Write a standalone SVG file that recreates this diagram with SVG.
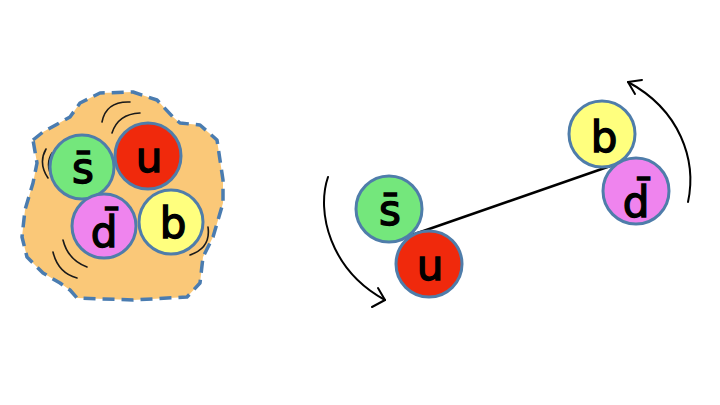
<svg xmlns="http://www.w3.org/2000/svg" width="720" height="405" viewBox="0 0 720 405">
<style>
.q{stroke:#4F7DAA;stroke-width:3}
.g{fill:#74E77C}.r{fill:#F0290C}.p{fill:#EF84EE}.y{fill:#FFFF7E}
.t{font-family:"DejaVu Sans",sans-serif;font-size:42px;fill:#000;stroke:#000;stroke-width:1.4;text-anchor:middle}
.m{fill:none;stroke:#1a1a1a;stroke-width:1.6;stroke-linecap:round}
.c{fill:none;stroke:#000;stroke-width:2;stroke-linecap:round;stroke-linejoin:round}
</style>
<rect width="720" height="405" fill="#fff"/>
<g id="hadron">
<path d="M33,140 L43,132 L70,117 L80,103 L100,93 L133,92 L157,100 L173,117 L180,123 L200,125 L217,140 L220,160 L223,180 L223,203 L213,237 L203,257 L200,283 L187,297 L133,300 L77,298 L70,290 L60,283 L43,273 L27,257 L22,237 L25,210 L33,183 L37,163 Z" fill="#FAC878" stroke="#4A7CB0" stroke-width="3.5" stroke-dasharray="12 7" stroke-linejoin="round"/>
<path class="m" d="M102,122 Q106,101 130,102 M112,133 Q118,114 140,113 M46,149 Q38,163 48,178 M52,153 Q45,164 52,177 M63,240 Q68,260 87,267 M53,252 Q58,273 77,278 M208,227 Q211,248 190,255"/>
</g>
<g id="L-sbar"><circle class="q g" cx="82" cy="167" r="32"/><text class="t" x="83" y="183">s̄</text></g>
<g id="L-u"><circle class="q r" cx="148" cy="156" r="33"/><text class="t" x="149" y="172">u</text></g>
<g id="L-dbar"><circle class="q p" cx="104" cy="226" r="32"/><text class="t" x="104" y="247">d̄</text></g>
<g id="L-b"><circle class="q y" cx="171" cy="222" r="32"/><text class="t" x="173" y="238">b</text></g>
<g id="connectors">
<path d="M409,236 L619,163" stroke="#000" stroke-width="2.5"/>
<path class="c" d="M328,177 C316,212 330,270 385,300"/>
<path class="c" d="M378,288 L385,300 L372,307"/>
<path class="c" d="M688,202 C697,160 680,110 628,82"/>
<path class="c" d="M642,80 L628,82 L635,94"/>
</g>
<g id="R-sbar"><circle class="q g" cx="389" cy="209" r="33"/><text class="t" x="390" y="225">s̄</text></g>
<g id="R-u"><circle class="q r" cx="429" cy="264" r="33"/><text class="t" x="430" y="280">u</text></g>
<g id="R-b"><circle class="q y" cx="602" cy="134" r="33"/><text class="t" x="604" y="152">b</text></g>
<g id="R-dbar"><circle class="q p" cx="636" cy="191" r="33"/><text class="t" x="636" y="217">d̄</text></g>
</svg>
